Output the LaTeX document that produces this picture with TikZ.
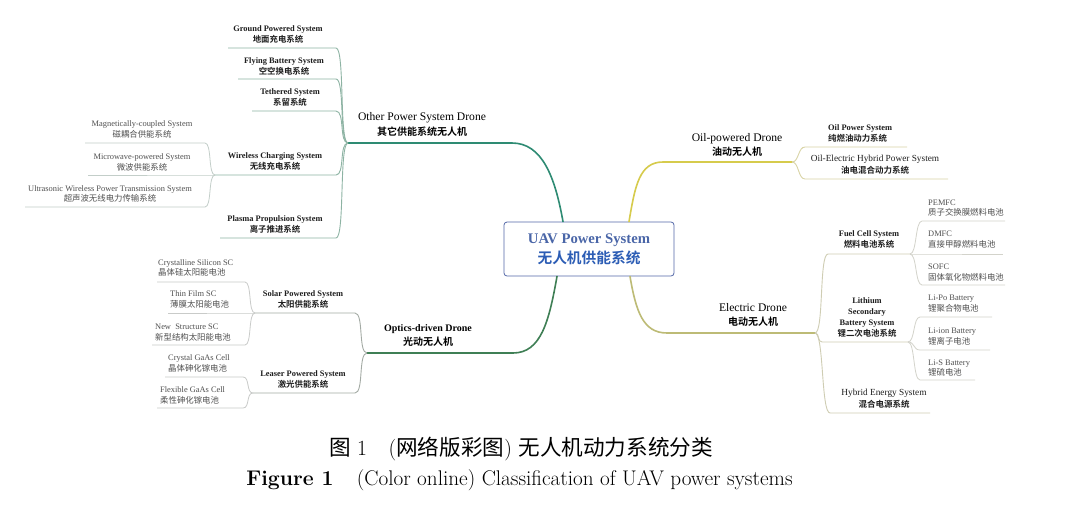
\documentclass[tikz,border=0pt]{standalone}
\usepackage{fontspec}
\newfontfamily\tms{Liberation Serif}
\newfontfamily\cjk{Noto Sans CJK SC}[BoldFont={Noto Sans CJK SC Bold}]
\usetikzlibrary{calc}
\definecolor{cOther}{HTML}{2E8B73}
\definecolor{cOtherSub}{HTML}{8DB3A3}
\definecolor{cOtherLeaf}{HTML}{C3CEC9}
\definecolor{cOpt}{HTML}{3F7F55}
\definecolor{cOptSub}{HTML}{A3AAA4}
\definecolor{cOptLeaf}{HTML}{C9CBC9}
\definecolor{cOil}{HTML}{D6CB4C}
\definecolor{cOilSub}{HTML}{D9D4A6}
\definecolor{cEle}{HTML}{BDBB76}
\definecolor{cEleSub}{HTML}{CFCDB3}
\definecolor{cEleLeaf}{HTML}{D3D3CB}
\definecolor{rootDraw}{HTML}{5468A8}
\definecolor{rootEn}{HTML}{4A66A8}
\definecolor{rootZh}{HTML}{2C5DB5}
\definecolor{leafText}{HTML}{505050}
\definecolor{subText}{HTML}{1E1E1E}
\newcommand\Ta[1]{{\tms #1}}
\newcommand\Tb[1]{{\tms\bfseries #1}}
\newcommand\Ca[1]{{\cjk #1}}
\newcommand\Cb[1]{{\cjk\bfseries #1}}
\newcommand\Cbt[1]{{\cjk\bfseries\fontsize{10}{14.5}\selectfont #1}}
\newcommand\Tbt[1]{{\tms\bfseries\fontsize{10}{14}\selectfont #1}}
\newcommand\Cbs[1]{{\cjk\bfseries\fontsize{8.5}{12}\selectfont #1}}
\tikzset{
  lone/.style={font=\fontsize{11.6}{14.5}\selectfont, align=center, inner sep=0pt, text=black},
  lopt/.style={font=\fontsize{10}{14}\selectfont, align=center, inner sep=0pt, text=black},
  ltwo/.style={font=\fontsize{8.4}{11}\selectfont, align=center, inner sep=0pt, text=subText},
  lhyb/.style={font=\fontsize{9.3}{12}\selectfont, align=center, inner sep=0pt, text=subText},
  lleaf/.style={font=\fontsize{8.4}{10.5}\selectfont, align=left, inner sep=0pt, text=leafText, anchor=west},
  lleafc/.style={font=\fontsize{8.4}{10.5}\selectfont, align=center, inner sep=0pt, text=leafText},
  brOther/.style={draw=cOther, line width=1.6pt, line cap=round},
  brOpt/.style={draw=cOpt, line width=1.6pt, line cap=round},
  brOil/.style={draw=cOil, line width=1.6pt, line cap=round},
  brEle/.style={draw=cEle, line width=1.6pt, line cap=round},
  subOther/.style={draw=cOtherSub, line width=0.9pt},
  leafOther/.style={draw=cOtherLeaf, line width=0.8pt},
  subOpt/.style={draw=cOptSub, line width=0.9pt},
  leafOpt/.style={draw=cOptLeaf, line width=0.8pt},
  subOil/.style={draw=cOilSub, line width=0.9pt},
  subEle/.style={draw=cEleSub, line width=0.9pt},
  leafEle/.style={draw=cEleLeaf, line width=0.8pt},
  caption/.style={inner sep=0pt}
}
\begin{document}
\begin{tikzpicture}[x=1pt,y=-1pt]
\fill[white] (0,0) rectangle (1080,512);
\useasboundingbox (0,0) rectangle (1080,512);

% ---------- root ----------
\node[draw=rootDraw, line width=0.8pt, rounded corners=3pt, fill=white,
      minimum width=170pt, minimum height=54pt, inner sep=0pt, align=center,
      font=\fontsize{14.7}{20}\selectfont] (root) at (589,249)
  {\textcolor{rootEn}{\Tb{UAV Power System}}\\\textcolor{rootZh}{\Cb{无人机供能系统}}};
\coordinate (rOther) at ($(root.north)+(-26,0)$);
\coordinate (rOil)   at ($(root.north)+(40,0)$);
\coordinate (rOpt)   at ($(root.south)+(-32,0)$);
\coordinate (rEle)   at ($(root.south)+(41,0)$);

% ---------- level 1 ----------
\coordinate (jOther) at (348,143); \coordinate (eOther) at (512,143);
\coordinate (jOpt) at (367,353);   \coordinate (eOpt) at (513,353);
\coordinate (jOil) at (792,162);   \coordinate (eOil) at (663,162);
\coordinate (jEle) at (815,333);   \coordinate (eEle) at (667,333);

\node[lone] (other) at (422,124.5) {\Ta{Other Power System Drone}\\\Cbt{其它供能系统无人机}};
\node[lopt] (opt) at (428,335) {\Tbt{Optics-driven Drone}\\\Cbt{光动无人机}};
\node[lone] (oil) at (737,145) {\Ta{Oil-powered Drone}\\\Cbt{油动无人机}};
\node[lone] (ele) at (753,315) {\Ta{Electric Drone}\\\Cbt{电动无人机}};

\draw[brOther] (rOther) .. controls +(-8,-45) and +(30,0) .. (eOther) -- (jOther);
\draw[brOpt] (rOpt) .. controls +(-8,45) and +(28,0) .. (eOpt) -- (jOpt);
\draw[brOil] (rOil) .. controls +(6,-35) and +(-24,0) .. (eOil) -- (jOil);
\draw[brEle] (rEle) .. controls +(6,35) and +(-24,0) .. (eEle) -- (jEle);

% ---------- Other power system children ----------
\coordinate (gnd-r) at (336,48);  \coordinate (gnd-l) at (228,48);
\coordinate (fly-r) at (336,79);  \coordinate (fly-l) at (238,79);
\coordinate (teth-r) at (336,111); \coordinate (teth-l) at (252,111);
\coordinate (wire-r) at (336,175); \coordinate (jWire) at (215,175);
\coordinate (plas-r) at (336,238); \coordinate (plas-l) at (220,238);

\node[ltwo] (gnd) at (278,34.5) {\Tb{Ground Powered System}\\\Cb{地面充电系统}};
\node[ltwo] (fly) at (284,66.5) {\Tb{Flying Battery System}\\\Cb{空空换电系统}};
\node[ltwo] (teth) at (290,97.5) {\Tb{Tethered System}\\\Cb{系留系统}};
\node[ltwo] (wire) at (275,161.5) {\Tb{Wireless Charging System}\\\Cb{无线充电系统}};
\node[ltwo] (plas) at (275,224.5) {\Tb{Plasma Propulsion System}\\\Cb{离子推进系统}};

\draw[subOther] (jOther) .. controls +(-9,0) and +(9,0) .. (gnd-r) -- (gnd-l);
\draw[subOther] (jOther) .. controls +(-9,0) and +(9,0) .. (fly-r) -- (fly-l);
\draw[subOther] (jOther) .. controls +(-9,0) and +(9,0) .. (teth-r) -- (teth-l);
\draw[subOther] (jOther) .. controls +(-9,0) and +(9,0) .. (wire-r) -- (jWire);
\draw[subOther] (jOther) .. controls +(-9,0) and +(9,0) .. (plas-r) -- (plas-l);

% wireless leaves
\coordinate (mag-r) at (205,143); \coordinate (mag-l) at (85,143);
\coordinate (mic-r) at (205,175); \coordinate (mic-l) at (88,175);
\coordinate (ult-r) at (205,207); \coordinate (ult-l) at (25,207);
\node[lleafc] (mag) at (142,129.5) {\Ta{Magnetically-coupled System}\\\Ca{磁耦合供能系统}};
\node[lleafc] (mic) at (142,162.5) {\Ta{Microwave-powered System}\\\Ca{微波供能系统}};
\node[lleafc] (ult) at (110,194) {\Ta{Ultrasonic Wireless Power Transmission System}\\\Ca{超声波无线电力传输系统}};
\draw[leafOther] (jWire) .. controls +(-7,0) and +(7,0) .. (mag-r) -- (mag-l);
\draw[leafOther] (jWire) -- (mic-r) -- (mic-l);
\draw[leafOther] (jWire) .. controls +(-7,0) and +(7,0) .. (ult-r) -- (ult-l);

% ---------- Optics children ----------
\coordinate (sol-r) at (355,313); \coordinate (jSol) at (255,313);
\coordinate (las-r) at (355,393); \coordinate (jLas) at (253,393);
\node[ltwo] (sol) at (303,299.5) {\Tb{Solar Powered System}\\\Cb{太阳供能系统}};
\node[ltwo] (las) at (303,379.5) {\Tb{Leaser Powered System}\\\Cb{激光供能系统}};
\draw[subOpt] (jOpt) .. controls +(-9,0) and +(9,0) .. (sol-r) -- (jSol);
\draw[subOpt] (jOpt) .. controls +(-9,0) and +(9,0) .. (las-r) -- (jLas);

\coordinate (csi-r) at (245,282); \coordinate (csi-l) at (157,282);
\coordinate (thin-r) at (245,313); \coordinate (thin-l) at (168,313);
\coordinate (nst-r) at (245,345); \coordinate (nst-l) at (152,345);
\coordinate (cga-r) at (243,377); \coordinate (cga-l) at (165,377);
\coordinate (fga-r) at (243,408); \coordinate (fga-l) at (157,408);
\node[lleaf] (csi) at (158,268) {\Ta{Crystalline Silicon SC}\\\Ca{晶体硅太阳能电池}};
\node[lleaf] (thin) at (170,299.5) {\Ta{Thin Film SC}\\\Ca{薄膜太阳能电池}};
\node[lleaf] (nst) at (155,332.5) {\Ta{New~ Structure SC}\\\Ca{新型结构太阳能电池}};
\node[lleaf] (cga) at (168,363.5) {\Ta{Crystal GaAs Cell}\\\Ca{晶体砷化镓电池}};
\node[lleaf] (fga) at (160,395.5) {\Ta{Flexible GaAs Cell}\\\Ca{柔性砷化镓电池}};
\draw[leafOpt] (jSol) .. controls +(-7,0) and +(7,0) .. (csi-r) -- (csi-l);
\draw[leafOpt] (jSol) -- (thin-r) -- (thin-l);
\draw[leafOpt] (jSol) .. controls +(-7,0) and +(7,0) .. (nst-r) -- (nst-l);
\draw[leafOpt] (jLas) .. controls +(-7,0) and +(7,0) .. (cga-r) -- (cga-l);
\draw[leafOpt] (jLas) .. controls +(-7,0) and +(7,0) .. (fga-r) -- (fga-l);

% ---------- Oil children ----------
\coordinate (ops-l) at (805,147); \coordinate (ops-r) at (907,147);
\coordinate (ohy-l) at (805,179); \coordinate (ohy-r) at (948,179);
\node[ltwo, anchor=west, align=left] (ops) at (828,133.5) {\Tb{Oil Power System}\\\Cb{纯燃油动力系统}};
\node[lhyb] (ohy) at (875,165) {\Ta{Oil-Electric Hybrid Power System}\\\Cbs{油电混合动力系统}};
\draw[subOil] (jOil) .. controls +(7,0) and +(-7,0) .. (ops-l) -- (ops-r);
\draw[subOil] (jOil) .. controls +(7,0) and +(-7,0) .. (ohy-l) -- (ohy-r);

% ---------- Electric children ----------
\coordinate (fuel-l) at (828,254); \coordinate (jFuel) at (910,254);
\coordinate (lith-l) at (822,342); \coordinate (jLith) at (908,342);
\coordinate (hyb-l) at (830,413); \coordinate (hyb-r) at (930,413);
\node[ltwo] (fuel) at (869,239.5) {\Tb{Fuel Cell System}\\\Cb{燃料电池系统}};
\node[ltwo, font=\fontsize{8.4}{10.7}\selectfont] (lith) at (867,317.5) {\Tb{Lithium}\\\Tb{Secondary}\\\Tb{Battery System}\\\Cb{锂二次电池系统}};
\node[lhyb] (hyb) at (884,399) {\Ta{Hybrid Energy System}\\\Cbs{混合电源系统}};
\draw[subEle] (jEle) .. controls +(9,0) and +(-9,0) .. (fuel-l) -- (jFuel);
\draw[subEle] (jEle) .. controls +(5,0) and +(-5,0) .. (lith-l) -- (jLith);
\draw[subEle] (jEle) .. controls +(9,0) and +(-9,0) .. (hyb-l) -- (hyb-r);

\coordinate (pem-l) at (922,221); \coordinate (pem-r) at (1005,221);
\coordinate (dm-l) at (922,254);  \coordinate (dm-r) at (1003,254);
\coordinate (so-l) at (922,285);  \coordinate (so-r) at (1005,285);
\coordinate (lpo-l) at (920,317); \coordinate (lpo-r) at (992,317);
\coordinate (lio-l) at (920,350); \coordinate (lio-r) at (990,350);
\coordinate (lis-l) at (920,380); \coordinate (lis-r) at (975,380);
\node[lleaf] (pem) at (928,208) {\Ta{PEMFC}\\\Ca{质子交换膜燃料电池}};
\node[lleaf] (dm) at (928,239.5) {\Ta{DMFC}\\\Ca{直接甲醇燃料电池}};
\node[lleaf] (so) at (928,272.5) {\Ta{SOFC}\\\Ca{固体氧化物燃料电池}};
\node[lleaf] (lpo) at (928,303.5) {\Ta{Li-Po Battery}\\\Ca{锂聚合物电池}};
\node[lleaf] (lio) at (928,336.5) {\Ta{Li-ion Battery}\\\Ca{锂离子电池}};
\node[lleaf] (lis) at (928,368) {\Ta{Li-S Battery}\\\Ca{锂硫电池}};
\draw[leafEle] (jFuel) .. controls +(7,0) and +(-7,0) .. (pem-l) -- (pem-r);
\draw[leafEle] (jFuel) -- (dm-l) -- (dm-r);
\draw[leafEle] (jFuel) .. controls +(7,0) and +(-7,0) .. (so-l) -- (so-r);
\draw[leafEle] (jLith) .. controls +(7,0) and +(-7,0) .. (lpo-l) -- (lpo-r);
\draw[leafEle] (jLith) .. controls +(7,0) and +(-7,0) .. (lio-l) -- (lio-r);
\draw[leafEle] (jLith) .. controls +(7,0) and +(-7,0) .. (lis-l) -- (lis-r);

% ---------- caption ----------
\node[caption, font=\fontsize{21.6}{26}\selectfont] (capzh) at (521,449)
  {\Ca{图}\ 1\hspace{1em}(\Ca{网络版彩图}) \Ca{无人机动力系统分类}};
\node[caption, font=\fontsize{21.2}{26}\selectfont] (capen) at (519.5,480)
  {\textbf{Figure 1}\hspace{1.1em}(Color online) Classification of UAV power systems};
\end{tikzpicture}
\end{document}
